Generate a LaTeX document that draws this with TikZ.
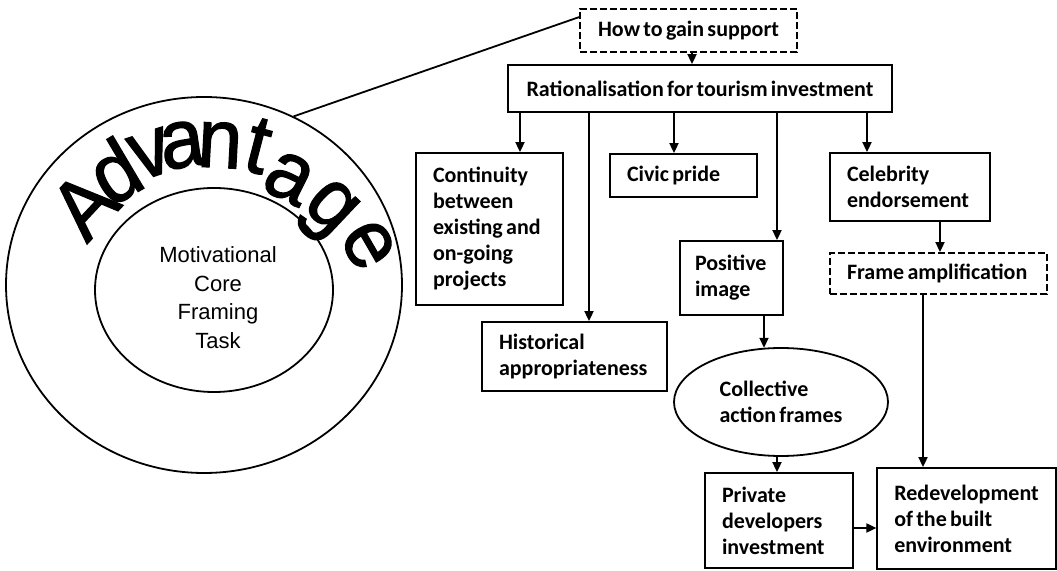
\documentclass[tikz,border=0pt]{standalone}
\usepackage{fontspec}
\setmainfont{Liberation Sans}
\newfontfamily\calfont{Carlito}
\newfontfamily\arialfont{Liberation Sans}
\newfontfamily\arialheavy{Liberation Sans}[FakeBold=1.5]
\usetikzlibrary{arrows.meta,shapes.geometric,calc}
\newcommand\advfont{\arialheavy\fontsize{80}{80}\selectfont}

\begin{document}
\begin{tikzpicture}[x=1pt,y=1pt,
  every node/.style={inner sep=0pt},
  stroke/.style={line width=1.8pt},
  boxtext/.style={font={\calfont\bfseries\fontsize{22}{26}\selectfont},
    execute at begin node={\spaceskip=0.15em\relax\hyphenpenalty=10000\relax}},
  box/.style={draw, stroke, rectangle, align=left, inner xsep=17pt, inner ysep=0pt, boxtext},
  dbox/.style={box, dash pattern=on 7pt off 3pt},
  oval/.style={draw, stroke, ellipse, inner sep=0pt},
  arr/.style={stroke, -{Triangle[length=10pt,width=9pt]}},
]
\fill[white] (0,0) rectangle (1057,570);
\useasboundingbox (0,0) rectangle (1057,570);

% left: the motivational core
\node[oval, minimum width=396pt, minimum height=376pt] (outer) at (204,285) {};
\node[oval, minimum width=238pt, minimum height=204pt] (core) at (214,280) {};
\node[align=center, font={\arialfont\fontsize{22}{28.5}\selectfont}] (coretext)
  at ($(core.center)+(4,-7.5)$) {Motivational\\Core\\Framing\\Task};
% the arched title, one letter at a time: centre point and tilt of each letter
\foreach \ch/\px/\py/\ang [count=\i] in {
    A/84/365/137, d/114/399/120.6, v/150.7/416/108.2,
    a/182.3/425/98.4, n/220/425/86.9, t/258.3/424/75.4,
    a/289/392/63.2, g/326.7/358/46.7, e/368.3/325/30}
  \node[anchor=center, rotate=\ang-90, font=\advfont] (adv\i) at (\px,\py)
    {\scalebox{1}[1.05]{\ch}};

% right: the framing chain
\node[dbox, align=center, minimum width=217pt, minimum height=43pt] (how) at (688.5,539.5) {How to gain support};
\node[box, align=center, minimum width=384pt, minimum height=47pt] (rat) at (700,481.5) {Rationalisation for tourism investment};
\node[box, text width=113pt, minimum height=152pt] (cont) at (489.5,341) {Continuity\\between\\existing and\\on-going\\projects};
\node[box, text width=113pt, minimum height=43pt] (civic) at (683.5,394.5) {Civic pride};
\node[box, text width=126pt, minimum height=68pt] (celeb) at (910,383) {Celebrity\\endorsement};
\node[box, inner xsep=15pt, text width=73pt, minimum height=74pt] (pos) at (731.5,292) {Positive\\image};
\node[dbox, text width=183pt, minimum height=41pt] (ampl) at (938.5,296.5) {Frame amplification};
\node[box, text width=151pt, minimum height=69pt] (hist) at (574.5,213.5) {Historical\\appropriateness};
\node[oval, align=left, minimum width=214pt, minimum height=108pt, boxtext] (coll) at (781,168) {Collective\\action frames};
\node[box, text width=114pt, minimum height=95pt] (priv) at (779,49.5) {Private\\developers\\investment};
\node[box, minimum width=175pt, minimum height=101pt] (redev) at (966.5,51.5) {Redevelopment\\of the built\\environment};

% connectors
\coordinate (xhow) at (692,0);
\coordinate (xcont) at (520,0);
\coordinate (xhist) at (589,0);
\coordinate (xcivic) at (674,0);
\coordinate (xpos) at (777,0);
\coordinate (xceleb) at (867,0);
\coordinate (xampl) at (940,0);
\coordinate (xredev) at (923,0);
\coordinate (xcoll) at (764,0);
\coordinate (xpriv) at (777,0);
\coordinate (ypriv) at (0,42);

\draw[stroke] (outer.62) -- ($(how.north west)+(0,-9)$);
\draw[arr] (how.south -| xhow) -- (rat.north -| xhow);
\draw[arr] (rat.south -| xcont) -- (cont.north -| xcont);
\draw[arr] (rat.south -| xhist) -- (hist.north -| xhist);
\draw[arr] (rat.south -| xcivic) -- (civic.north -| xcivic);
\draw[arr] (rat.south -| xpos) -- (pos.north -| xpos);
\draw[arr] (rat.south -| xceleb) -- (celeb.north -| xceleb);
\draw[arr] (celeb.south -| xampl) -- (ampl.north -| xampl);
\draw[arr] (ampl.south -| xredev) -- (redev.north -| xredev);
\draw[arr] (pos.south -| xcoll) -- ($(coll.north -| xcoll)+(0,-0.7)$);
\draw[arr] (coll.south -| xpriv) -- (priv.north -| xpriv);
\draw[arr] (priv.east |- ypriv) -- (redev.west |- ypriv);
\end{tikzpicture}
\end{document}
